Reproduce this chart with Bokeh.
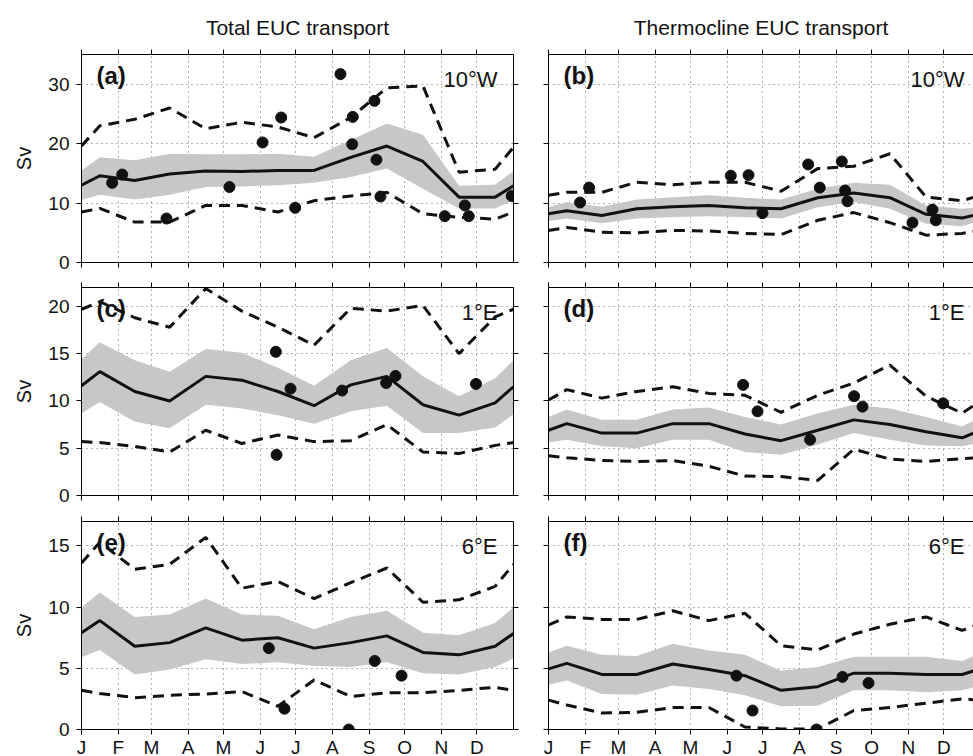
from bokeh.plotting import figure
from bokeh.models import FixedTicker, LinearAxis, Label, Range1d, CustomJSTickFormatter
from bokeh.layouts import column, row
from bokeh.embed import file_html
from bokeh.resources import INLINE

FONT = "Liberation Sans"

# ---------------- data ----------------
MONTH_STARTS = [0, 31, 59, 90, 120, 151, 181, 212, 243, 273, 304, 334]
MONTH_LABELS = ["J", "F", "M", "A", "M", "J", "J", "A", "S", "O", "N", "D"]
# day of year: 1 Jan, mid-months Jan..Dec, 31 Dec
DAYS = [0, 15.5, 45, 74.5, 105, 135.5, 166, 196.5, 227.5, 258, 288.5, 319, 349.5, 365]

COL_TITLES = ["Total EUC transport", "Thermocline EUC transport"]
SITES = ["10°W", "1°E", "6°E"]
PANEL_TAGS = ["(a)", "(b)", "(c)", "(d)", "(e)", "(f)"]
Y_MAX = [35, 22, 17]
Y_TICKS = [[0, 10, 20, 30], [0, 5, 10, 15, 20], [0, 5, 10, 15]]

# (a) total, 10W
mean_a = [13.0, 14.6, 13.8, 14.9, 15.4, 15.3, 15.5, 15.5, 17.7, 19.6, 17.0, 11.0, 11.0, 12.9]
hi_a = [15.5, 17.7, 17.2, 18.3, 18.2, 18.2, 18.3, 17.8, 20.6, 23.4, 21.5, 12.9, 13.1, 15.4]
lo_a = [10.5, 11.4, 10.6, 11.4, 12.7, 12.8, 13.0, 13.4, 14.4, 15.8, 12.4, 9.1, 9.1, 10.5]
max_a = [19.6, 23.0, 24.1, 26.0, 22.5, 23.6, 22.8, 21.0, 24.4, 29.4, 29.7, 15.2, 15.7, 19.4]
min_a = [8.5, 9.1, 6.8, 6.8, 9.6, 9.6, 8.5, 10.4, 11.2, 11.8, 8.2, 7.6, 7.3, 8.5]
obs_a_day = [25.9, 34.4, 71.8, 125, 153, 168.7, 180.5, 218.8, 228.7, 229.2, 247.5, 249.2, 252.6, 307, 323.9, 327.2, 363.5]
obs_a_val = [13.4, 14.8, 7.4, 12.7, 20.2, 24.4, 9.2, 31.7, 19.9, 24.5, 27.2, 17.3, 11.1, 7.8, 9.6, 7.8, 11.2]

# (b) thermocline, 10W
mean_b = [8.2, 8.7, 7.9, 9.05, 9.4, 9.6, 9.2, 9.05, 10.9, 11.7, 10.9, 8.1, 7.5, 8.2]
hi_b = [9.3, 10.2, 9.4, 10.6, 11.0, 11.3, 10.9, 10.6, 12.4, 13.4, 13.1, 9.6, 9.05, 9.3]
lo_b = [7.0, 7.4, 6.6, 7.4, 7.65, 7.8, 7.65, 7.4, 9.3, 10.2, 9.05, 6.5, 6.1, 7.0]
max_b = [11.3, 11.8, 11.8, 13.5, 13.1, 13.5, 13.5, 12.0, 15.8, 16.2, 18.3, 11.0, 10.4, 11.3]
min_b = [5.4, 5.9, 5.1, 5.0, 5.4, 5.3, 4.9, 4.7, 7.1, 8.4, 6.7, 4.6, 4.9, 5.4]
obs_b_day = [26.7, 34.3, 154, 169, 180.8, 219.4, 229.2, 247.8, 250.6, 252.6, 307.5, 324.4, 327.2]
obs_b_val = [10.1, 12.6, 14.6, 14.7, 8.3, 16.5, 12.6, 17.0, 12.1, 10.3, 6.7, 8.9, 7.1]

# (c) total, 1E
mean_c = [11.6, 13.1, 11.0, 10.0, 12.6, 12.2, 11.0, 9.5, 11.7, 12.6, 9.6, 8.5, 9.8, 11.5]
hi_c = [14.4, 16.2, 14.3, 13.1, 15.5, 15.1, 13.5, 11.6, 14.3, 15.6, 12.6, 10.5, 12.4, 14.3]
lo_c = [8.7, 9.9, 7.8, 7.1, 9.6, 9.2, 8.5, 7.6, 8.9, 9.5, 6.6, 6.6, 7.2, 8.6]
max_c = [19.7, 20.5, 18.8, 17.8, 21.9, 19.5, 17.8, 15.9, 19.8, 19.5, 20.1, 15.0, 18.9, 19.7]
min_c = [5.7, 5.6, 5.2, 4.6, 6.9, 5.5, 6.4, 5.7, 5.8, 7.5, 4.6, 4.45, 5.3, 5.6]
obs_c_day = [164.2, 164.8, 176.6, 220.2, 257.4, 265.3, 333.3]
obs_c_val = [15.2, 4.3, 11.3, 11.1, 11.9, 12.65, 11.8]

# (d) thermocline, 1E
mean_d = [6.9, 7.6, 6.6, 6.6, 7.6, 7.6, 6.5, 5.8, 6.9, 8.0, 7.5, 6.75, 6.1, 6.9]
hi_d = [8.3, 9.1, 8.0, 8.0, 9.1, 9.3, 8.3, 7.5, 8.7, 9.6, 9.2, 8.3, 7.3, 8.3]
lo_d = [5.6, 5.9, 5.2, 5.0, 5.9, 5.9, 4.6, 4.3, 5.4, 6.6, 5.9, 5.3, 5.2, 5.6]
max_d = [10.1, 11.2, 10.3, 11.0, 11.5, 10.8, 10.6, 8.8, 10.6, 11.9, 13.8, 10.5, 8.7, 10.0]
min_d = [4.2, 4.0, 3.7, 3.6, 3.7, 3.1, 2.05, 2.0, 1.6, 4.9, 3.85, 3.6, 3.9, 4.0]
obs_d_day = [164.4, 176.6, 221, 258.2, 265.3, 333.4]
obs_d_val = [11.7, 8.9, 5.9, 10.5, 9.4, 9.75]

# (e) total, 6E
mean_e = [7.9, 8.9, 6.8, 7.1, 8.3, 7.3, 7.5, 6.65, 7.1, 7.65, 6.3, 6.1, 6.8, 7.85]
hi_e = [10.0, 11.2, 9.2, 9.4, 10.7, 9.4, 9.3, 8.2, 9.2, 9.7, 7.9, 7.7, 8.7, 10.0]
lo_e = [5.9, 6.5, 4.5, 4.9, 5.75, 5.35, 5.5, 5.2, 5.1, 5.5, 4.6, 4.5, 5.1, 5.8]
max_e = [13.6, 15.3, 13.1, 13.5, 15.7, 11.55, 12.1, 10.7, 12.0, 13.2, 10.4, 10.6, 11.7, 13.5]
min_e = [3.2, 2.95, 2.6, 2.8, 2.9, 3.1, 1.9, 4.05, 2.7, 3.0, 3.0, 3.2, 3.45, 3.2]
obs_e_day = [158.3, 171.5, 225.8, 247.8, 270.4]
obs_e_val = [6.65, 1.7, 0.0, 5.6, 4.4]

# (f) thermocline, 6E
mean_f = [4.95, 5.4, 4.5, 4.5, 5.35, 4.9, 4.4, 3.2, 3.5, 4.6, 4.6, 4.5, 4.5, 4.95]
hi_f = [6.3, 6.85, 6.1, 6.0, 7.0, 6.45, 6.1, 4.8, 5.1, 5.95, 5.95, 5.95, 5.6, 6.25]
lo_f = [3.65, 4.0, 2.9, 2.85, 3.6, 3.3, 2.8, 1.9, 1.95, 3.2, 3.2, 3.05, 3.2, 3.6]
max_f = [8.55, 9.2, 9.0, 9.0, 9.7, 8.9, 9.5, 6.85, 6.5, 7.8, 8.6, 9.2, 8.1, 8.65]
min_f = [2.4, 2.0, 1.35, 1.4, 1.8, 1.8, 0.2, 0.05, 0.03, 1.55, 1.8, 2.15, 2.5, 2.4]
obs_f_day = [158.8, 172.4, 226.4, 248.4, 270.4]
obs_f_val = [4.4, 1.55, 0.0, 4.3, 3.8]

PANELS = [
    (mean_a, hi_a, lo_a, max_a, min_a, obs_a_day, obs_a_val),
    (mean_b, hi_b, lo_b, max_b, min_b, obs_b_day, obs_b_val),
    (mean_c, hi_c, lo_c, max_c, min_c, obs_c_day, obs_c_val),
    (mean_d, hi_d, lo_d, max_d, min_d, obs_d_day, obs_d_val),
    (mean_e, hi_e, lo_e, max_e, min_e, obs_e_day, obs_e_val),
    (mean_f, hi_f, lo_f, max_f, min_f, obs_f_day, obs_f_val),
]

# ---------------- style / layout ----------------
BAND = "#c6c8c8"
FRAME_H = 208
PX_PER_DAY = 432 / 365.0
RIGHT_FRAME_W = 425
RIGHT_X_END = RIGHT_FRAME_W / PX_PER_DAY
BORDERS = [(54, 13), (12, 13), (13, 27)]


def blank(ax):
    ax.formatter = CustomJSTickFormatter(code="return ''")
    ax.major_label_text_font_size = "1px"
    ax.major_label_standoff = 0


def style_axis(ax):
    ax.axis_line_color = "black"
    ax.axis_line_width = 1
    ax.major_tick_line_color = "black"
    ax.major_tick_line_width = 1
    ax.major_tick_out = 5
    ax.major_tick_in = 0
    ax.minor_tick_line_color = None
    ax.major_label_text_font = FONT
    ax.major_label_text_font_size = "19px"
    ax.major_label_text_color = "#111111"


def make_panel(r, c):
    idx = r * 2 + c
    mean, hi, lo, mx, mn, od, ov = PANELS[idx]
    top, bottom = BORDERS[r]
    if c == 0:
        fw, xend, bl, br = 432, 365, 81, 17
    else:
        fw, xend, bl, br = RIGHT_FRAME_W, RIGHT_X_END, 18, 0
    p = figure(frame_width=fw, frame_height=FRAME_H,
               x_range=Range1d(0, xend), y_range=Range1d(0, Y_MAX[r]),
               output_backend="svg", toolbar_location=None,
               min_border_left=bl, min_border_right=br,
               min_border_top=top, min_border_bottom=bottom,
               title=COL_TITLES[c] if r == 0 else None)
    p.outline_line_color = None
    p.background_fill_color = "white"
    p.border_fill_color = "white"

    if r == 0:
        p.title.align = "center"
        p.title.text_font = FONT
        p.title.text_font_size = "21px"
        p.title.text_font_style = "normal"
        p.title.text_color = "#111111"
        p.title.standoff = 22

    xb = p.xaxis[0]
    yl = p.yaxis[0]
    xb.ticker = FixedTicker(ticks=MONTH_STARTS)
    yl.ticker = FixedTicker(ticks=Y_TICKS[r])
    style_axis(xb)
    style_axis(yl)
    if r == 2:
        xb.major_label_overrides = {m: lab for m, lab in zip(MONTH_STARTS, MONTH_LABELS)}
        xb.major_label_standoff = 2
    else:
        blank(xb)
    if c == 0:
        yl.major_label_standoff = 7
        yl.axis_label = "Sv"
        yl.axis_label_text_font = FONT
        yl.axis_label_text_font_size = "20px"
        yl.axis_label_text_font_style = "normal"
        yl.axis_label_text_color = "#111111"
        yl.axis_label_standoff = 10
    else:
        blank(yl)

    xt = LinearAxis(ticker=FixedTicker(ticks=MONTH_STARTS))
    style_axis(xt)
    blank(xt)
    p.add_layout(xt, "above")
    if c == 0:
        yr = LinearAxis(ticker=FixedTicker(ticks=Y_TICKS[r]))
        style_axis(yr)
        blank(yr)
        p.add_layout(yr, "right")

    p.xgrid.ticker = FixedTicker(ticks=MONTH_STARTS)
    p.ygrid.ticker = FixedTicker(ticks=Y_TICKS[r])
    p.grid.grid_line_color = "#555555"
    p.grid.grid_line_alpha = 0.9
    p.grid.grid_line_dash = "1 4"
    p.grid.grid_line_width = 1

    p.varea(x=DAYS, y1=lo, y2=hi, fill_color=BAND, fill_alpha=1.0)
    p.line(DAYS, mx, line_color="#111111", line_width=3, line_dash="11 7")
    p.line(DAYS, mn, line_color="#111111", line_width=3, line_dash="11 7")
    p.line(DAYS, mean, line_color="#111111", line_width=3)
    p.scatter(od, ov, size=11, fill_color="#111111", line_color="#111111")

    ymax = Y_MAX[r]
    per_px = ymax / FRAME_H
    p.add_layout(Label(x=15 / PX_PER_DAY, y=ymax - 21 * per_px, text=PANEL_TAGS[idx],
                       text_font=FONT, text_font_size="24px", text_font_style="bold",
                       text_align="left", text_baseline="alphabetic", text_color="#111111"))
    p.add_layout(Label(x=365 - 16 / PX_PER_DAY, y=ymax - 25 * per_px, text=SITES[r],
                       text_font=FONT, text_font_size="22px",
                       text_align="right", text_baseline="alphabetic", text_color="#111111"))
    return p


rows = [row(make_panel(r, 0), make_panel(r, 1)) for r in range(3)]
layout = column(*rows)

open("out.html", "w").write(file_html(layout, INLINE, title="EUC transport"))
